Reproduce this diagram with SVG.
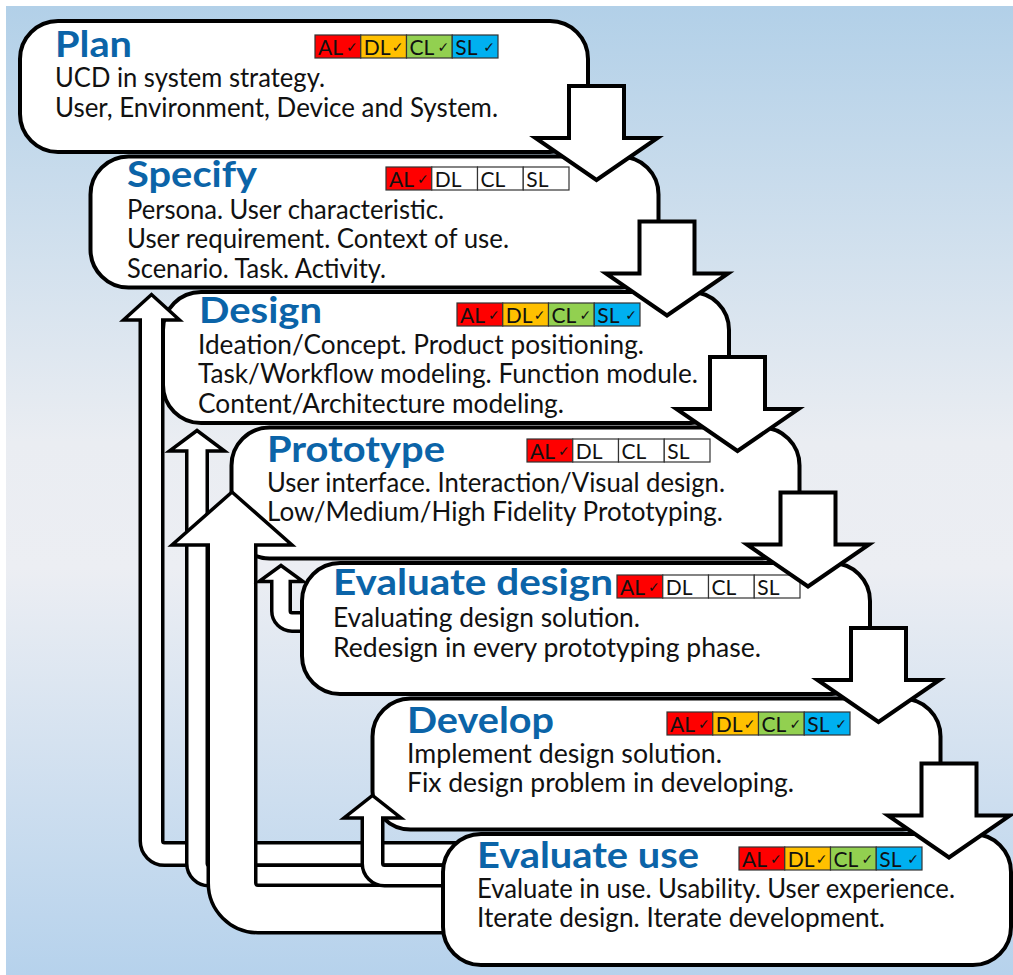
<svg xmlns="http://www.w3.org/2000/svg" width="1013" height="975" viewBox="0 0 1013 975">
<defs>
<linearGradient id="bg" x1="0" y1="0" x2="0" y2="1">
<stop offset="0" stop-color="#b2d0e8"/>
<stop offset="0.45" stop-color="#eaedf2"/>
<stop offset="0.58" stop-color="#eceef3"/>
<stop offset="1" stop-color="#b6d2ec"/>
</linearGradient>
<style>
.box{fill:#fff;stroke:#000;stroke-width:4}
.arr{fill:#fff;stroke:#000;stroke-width:4;stroke-linejoin:miter}
.lk{fill:none;stroke:#000}
.lw{fill:none;stroke:#fff}
.hd{fill:#fff;stroke:#000;stroke-width:3.5;stroke-linejoin:miter}
.t{font-family:Lato,"Open Sans",sans-serif;font-weight:700;font-size:36px;fill:#0b64a8}
.b{font-family:Lato,"Open Sans",sans-serif;font-size:26px;fill:#111}
.tg{font-family:Lato,"Open Sans",sans-serif;font-size:21px;fill:#111}
.ck{font-family:"DejaVu Sans",sans-serif;font-size:14px;fill:#111}
.c{stroke:#333;stroke-width:1.2}
.al{fill:#ff0000}.dl{fill:#ffc000}.cl{fill:#92d050}.sl{fill:#00b0f0}.no{fill:#fff}
</style>
</defs>
<rect x="0" y="0" width="1013" height="975" fill="#fff"/>
<rect x="6" y="6" width="1007" height="969" fill="url(#bg)"/>

<g id="plan">
<rect class="box" x="20" y="21" width="568" height="131" rx="38"/>
<text class="t" x="55" y="57" textLength="77" lengthAdjust="spacingAndGlyphs">Plan</text>
<text class="b" x="55" y="87" textLength="270" lengthAdjust="spacingAndGlyphs">UCD in system strategy.</text>
<text class="b" x="55" y="117" textLength="443" lengthAdjust="spacingAndGlyphs">User, Environment, Device and System.</text>
<g transform="translate(315,35)">
<rect class="c al" x="0" y="0" width="45.75" height="23"/><rect class="c dl" x="45.75" y="0" width="45.75" height="23"/><rect class="c cl" x="91.5" y="0" width="45.75" height="23"/><rect class="c sl" x="137.25" y="0" width="45.75" height="23"/>
<text class="tg" x="3" y="19.5">AL</text><text class="ck" x="31" y="17">✓</text>
<text class="tg" x="48.75" y="19.5">DL</text><text class="ck" x="76.75" y="17">✓</text>
<text class="tg" x="94.5" y="19.5">CL</text><text class="ck" x="122.5" y="17">✓</text>
<text class="tg" x="140.25" y="19.5">SL</text><text class="ck" x="168.25" y="17">✓</text>
</g>
</g>

<g id="specify">
<rect class="box" x="90.5" y="156.5" width="568" height="131" rx="38"/>
<text class="t" x="127" y="187" textLength="130" lengthAdjust="spacingAndGlyphs">Specify</text>
<text class="b" x="127" y="219" textLength="317" lengthAdjust="spacingAndGlyphs">Persona. User characteristic.</text>
<text class="b" x="127" y="248" textLength="382" lengthAdjust="spacingAndGlyphs">User requirement. Context of use.</text>
<text class="b" x="127" y="278" textLength="259" lengthAdjust="spacingAndGlyphs">Scenario. Task. Activity.</text>
<g transform="translate(386,167)">
<rect class="c al" x="0" y="0" width="45.75" height="23"/><rect class="c no" x="45.75" y="0" width="45.75" height="23"/><rect class="c no" x="91.5" y="0" width="45.75" height="23"/><rect class="c no" x="137.25" y="0" width="45.75" height="23"/>
<text class="tg" x="3" y="19.5">AL</text><text class="ck" x="31" y="17">✓</text>
<text class="tg" x="48.75" y="19.5">DL</text>
<text class="tg" x="94.5" y="19.5">CL</text>
<text class="tg" x="140.25" y="19.5">SL</text>
</g>
</g>

<g id="design">
<rect class="box" x="163" y="292" width="566" height="131" rx="38"/>
<text class="t" x="199" y="323" textLength="123" lengthAdjust="spacingAndGlyphs">Design</text>
<text class="b" x="198" y="354" textLength="446" lengthAdjust="spacingAndGlyphs">Ideation/Concept. Product positioning.</text>
<text class="b" x="198" y="383" textLength="500" lengthAdjust="spacingAndGlyphs">Task/Workflow modeling. Function module.</text>
<text class="b" x="198" y="413" textLength="366" lengthAdjust="spacingAndGlyphs">Content/Architecture modeling.</text>
<g transform="translate(457,303)">
<rect class="c al" x="0" y="0" width="45.75" height="23"/><rect class="c dl" x="45.75" y="0" width="45.75" height="23"/><rect class="c cl" x="91.5" y="0" width="45.75" height="23"/><rect class="c sl" x="137.25" y="0" width="45.75" height="23"/>
<text class="tg" x="3" y="19.5">AL</text><text class="ck" x="31" y="17">✓</text>
<text class="tg" x="48.75" y="19.5">DL</text><text class="ck" x="76.75" y="17">✓</text>
<text class="tg" x="94.5" y="19.5">CL</text><text class="ck" x="122.5" y="17">✓</text>
<text class="tg" x="140.25" y="19.5">SL</text><text class="ck" x="168.25" y="17">✓</text>
</g>
</g>

<g id="prototype">
<rect class="box" x="231.5" y="427.5" width="568" height="131" rx="38"/>
<text class="t" x="267" y="462" textLength="178" lengthAdjust="spacingAndGlyphs">Prototype</text>
<text class="b" x="267" y="492" textLength="458" lengthAdjust="spacingAndGlyphs">User interface. Interaction/Visual design.</text>
<text class="b" x="267" y="521" textLength="456" lengthAdjust="spacingAndGlyphs">Low/Medium/High Fidelity Prototyping.</text>
<g transform="translate(527,439)">
<rect class="c al" x="0" y="0" width="45.75" height="23"/><rect class="c no" x="45.75" y="0" width="45.75" height="23"/><rect class="c no" x="91.5" y="0" width="45.75" height="23"/><rect class="c no" x="137.25" y="0" width="45.75" height="23"/>
<text class="tg" x="3" y="19.5">AL</text><text class="ck" x="31" y="17">✓</text>
<text class="tg" x="48.75" y="19.5">DL</text>
<text class="tg" x="94.5" y="19.5">CL</text>
<text class="tg" x="140.25" y="19.5">SL</text>
</g>
</g>

<g id="evaluate-design">
<rect class="box" x="302" y="563" width="568" height="131" rx="38"/>
<text class="t" x="333" y="595" textLength="280" lengthAdjust="spacingAndGlyphs">Evaluate design</text>
<text class="b" x="333" y="627" textLength="307" lengthAdjust="spacingAndGlyphs">Evaluating design solution.</text>
<text class="b" x="333" y="657" textLength="428" lengthAdjust="spacingAndGlyphs">Redesign in every prototyping phase.</text>
<g transform="translate(617,575)">
<rect class="c al" x="0" y="0" width="45.75" height="23"/><rect class="c no" x="45.75" y="0" width="45.75" height="23"/><rect class="c no" x="91.5" y="0" width="45.75" height="23"/><rect class="c no" x="137.25" y="0" width="45.75" height="23"/>
<text class="tg" x="3" y="19.5">AL</text><text class="ck" x="31" y="17">✓</text>
<text class="tg" x="48.75" y="19.5">DL</text>
<text class="tg" x="94.5" y="19.5">CL</text>
<text class="tg" x="140.25" y="19.5">SL</text>
</g>
</g>

<g id="develop">
<rect class="box" x="372.5" y="698.5" width="568" height="131" rx="38"/>
<text class="t" x="407" y="733" textLength="147" lengthAdjust="spacingAndGlyphs">Develop</text>
<text class="b" x="407" y="763" textLength="315" lengthAdjust="spacingAndGlyphs">Implement design solution.</text>
<text class="b" x="407" y="792" textLength="387" lengthAdjust="spacingAndGlyphs">Fix design problem in developing.</text>
<g transform="translate(667,712)">
<rect class="c al" x="0" y="0" width="45.75" height="23"/><rect class="c dl" x="45.75" y="0" width="45.75" height="23"/><rect class="c cl" x="91.5" y="0" width="45.75" height="23"/><rect class="c sl" x="137.25" y="0" width="45.75" height="23"/>
<text class="tg" x="3" y="19.5">AL</text><text class="ck" x="31" y="17">✓</text>
<text class="tg" x="48.75" y="19.5">DL</text><text class="ck" x="76.75" y="17">✓</text>
<text class="tg" x="94.5" y="19.5">CL</text><text class="ck" x="122.5" y="17">✓</text>
<text class="tg" x="140.25" y="19.5">SL</text><text class="ck" x="168.25" y="17">✓</text>
</g>
</g>

<g id="loops">
<path class="lk" stroke-width="26" d="M151.5,320 V841 A13,13 0 0 0 164.5,854 H475"/>
<polygon class="hd" points="123.5,320 179.5,320 151.5,294.5"/>
<path class="lw" stroke-width="19" d="M151.5,316 V841 A13,13 0 0 0 164.5,854 H475"/>

<path class="lk" stroke-width="24" d="M197,451 V863.5 A12,12 0 0 0 209,875.5 H475"/>
<polygon class="hd" points="169.5,451 224.5,451 197,430.5"/>
<path class="lw" stroke-width="17" d="M197,447 V863.5 A12,12 0 0 0 209,875.5 H475"/>

<path class="lk" stroke-width="51" d="M232,545 V883 A26,26 0 0 0 258,909 H475"/>
<polygon class="hd" points="172,545 292,545 232,492"/>
<path class="lw" stroke-width="44" d="M232,540 V883 A26,26 0 0 0 258,909 H475"/>

<path class="lk" stroke-width="24" d="M372.5,818 V863.5 A12,12 0 0 0 384.5,875.5 H475"/>
<polygon class="hd" points="344,818 401,818 372.5,795.5"/>
<path class="lw" stroke-width="17" d="M372.5,814 V863.5 A12,12 0 0 0 384.5,875.5 H475"/>

<path class="lk" stroke-width="22" d="M281,581.5 V611 A11,11 0 0 0 292,622 H302"/>
<polygon class="hd" points="259,581.5 303,581.5 281,565.5"/>
<path class="lw" stroke-width="15" d="M281,578 V611 A11,11 0 0 0 292,622 H300"/>
</g>

<g id="evaluate-use">
<rect class="box" x="443" y="834" width="568" height="131" rx="38"/>
<text class="t" x="477" y="868" textLength="222" lengthAdjust="spacingAndGlyphs">Evaluate use</text>
<text class="b" x="477" y="898" textLength="478" lengthAdjust="spacingAndGlyphs">Evaluate in use. Usability. User experience.</text>
<text class="b" x="477" y="927" textLength="408" lengthAdjust="spacingAndGlyphs">Iterate design. Iterate development.</text>
<g transform="translate(739,847)">
<rect class="c al" x="0" y="0" width="45.75" height="23"/><rect class="c dl" x="45.75" y="0" width="45.75" height="23"/><rect class="c cl" x="91.5" y="0" width="45.75" height="23"/><rect class="c sl" x="137.25" y="0" width="45.75" height="23"/>
<text class="tg" x="3" y="19.5">AL</text><text class="ck" x="31" y="17">✓</text>
<text class="tg" x="48.75" y="19.5">DL</text><text class="ck" x="76.75" y="17">✓</text>
<text class="tg" x="94.5" y="19.5">CL</text><text class="ck" x="122.5" y="17">✓</text>
<text class="tg" x="140.25" y="19.5">SL</text><text class="ck" x="168.25" y="17">✓</text>
</g>
</g>

<g id="connectors">
<path class="arr" d="M569,86 H624 V138 H657.5 L596.5,180 L535.5,138 H569 Z"/>
<path class="arr" d="M639.5,221.5 H694.5 V273.5 H728 L667,315.5 L606,273.5 H639.5 Z"/>
<path class="arr" d="M710,357 H765 V409 H798.5 L737.5,451 L676.5,409 H710 Z"/>
<path class="arr" d="M780.5,492.5 H835.5 V544.5 H869 L808,586.5 L747,544.5 H780.5 Z"/>
<path class="arr" d="M851,628 H906 V680 H939.5 L878.5,722 L817.5,680 H851 Z"/>
<path class="arr" d="M921.5,763.5 H976.5 V815.5 H1010 L949,857.5 L888,815.5 H921.5 Z"/>
</g>
</svg>
